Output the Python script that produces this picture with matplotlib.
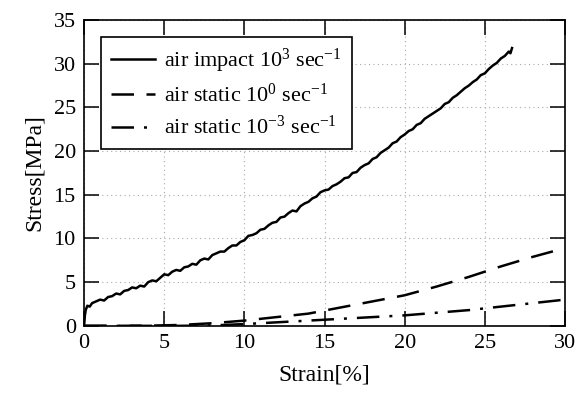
import matplotlib
matplotlib.use('Agg')
import matplotlib.pyplot as plt

plt.rcParams['font.family'] = ['Liberation Serif', 'DejaVu Serif']
plt.rcParams['mathtext.fontset'] = 'custom'
plt.rcParams['mathtext.rm'] = 'Liberation Serif'
plt.rcParams['mathtext.it'] = 'Liberation Serif:italic'

# air impact 10^3 /s (noisy curve)
impact_strain = [0, 0.05, 0.1, 0.2, 0.35, 0.5, 0.75, 1.0, 1.25, 1.5, 1.75, 2.0, 2.25, 2.5, 2.75,
                 3.0, 3.25, 3.5, 3.75, 4.0, 4.25, 4.5, 4.75, 5.0, 5.25, 5.5, 5.75, 6.0, 6.25,
                 6.5, 6.75, 7.0, 7.25, 7.5, 7.75, 8.0, 8.25, 8.5, 8.75, 9.0, 9.25, 9.5, 9.75,
                 10.0, 10.25, 10.5, 10.75, 11.0, 11.25, 11.5, 11.75, 12.0, 12.25, 12.5, 12.75,
                 13.0, 13.25, 13.5, 13.75, 14.0, 14.25, 14.5, 14.75, 15.0, 15.25, 15.5, 15.75,
                 16.0, 16.25, 16.5, 16.75, 17.0, 17.25, 17.5, 17.75, 18.0, 18.25, 18.5, 18.75,
                 19.0, 19.25, 19.5, 19.75, 20.0, 20.25, 20.5, 20.75, 21.0, 21.25, 21.5, 21.75,
                 22.0, 22.25, 22.5, 22.75, 23.0, 23.25, 23.5, 23.75, 24.0, 24.25, 24.5, 24.75,
                 25.0, 25.25, 25.5, 25.75, 26.0, 26.25, 26.5, 26.6, 26.7]
impact_stress = [0, 1.2, 1.8, 2.3, 2.2, 2.6, 2.8, 3.0, 2.9, 3.3, 3.4, 3.7, 3.6, 4.0, 4.1,
                 4.4, 4.3, 4.6, 4.5, 5.0, 5.2, 5.1, 5.5, 5.9, 5.8, 6.2, 6.4, 6.3, 6.7,
                 6.8, 7.1, 7.0, 7.5, 7.7, 7.6, 8.1, 8.3, 8.5, 8.5, 8.9, 9.2, 9.2, 9.6,
                 9.8, 10.3, 10.4, 10.6, 11.0, 11.1, 11.5, 11.8, 11.9, 12.4, 12.5, 12.9,
                 13.2, 13.1, 13.7, 14.0, 14.2, 14.6, 14.8, 15.3, 15.5, 15.6, 16.0, 16.2,
                 16.5, 16.9, 17.0, 17.5, 17.6, 18.1, 18.4, 18.6, 19.1, 19.3, 19.8, 20.1,
                 20.4, 20.9, 21.1, 21.6, 21.9, 22.3, 22.5, 23.0, 23.2, 23.7, 24.0, 24.3,
                 24.6, 24.9, 25.4, 25.6, 26.1, 26.4, 26.8, 27.2, 27.5, 27.9, 28.2, 28.7,
                 28.9, 29.4, 29.8, 30.1, 30.6, 30.9, 31.4, 31.2, 31.8]

# air static 10^0 /s
static0_strain = [0, 2, 4, 6, 8, 10, 12, 14, 16, 18, 20, 22, 24, 26, 28, 30]
static0_stress = [0, 0, 0.02, 0.1, 0.3, 0.6, 1.0, 1.4, 2.1, 2.8, 3.5, 4.5, 5.6, 6.8, 7.9, 8.9]

# air static 10^-3 /s
static3_strain = [0, 2, 4, 6, 7, 8, 10, 12, 14, 16, 18, 20, 22, 24, 26, 28, 30]
static3_stress = [0, 0, 0, 0, 0.02, 0.05, 0.2, 0.4, 0.6, 0.8, 1.0, 1.2, 1.5, 1.8, 2.2, 2.6, 3.0]

fig = plt.figure(figsize=(5.8, 3.94), dpi=100)
ax = fig.add_axes([0.145, 0.173, 0.829, 0.776])

lw = 1.8
ax.plot(impact_strain, impact_stress, color='black', lw=lw,
        label=r'air impact 10$^{3}$ sec$^{-1}$')
ax.plot(static0_strain, static0_stress, color='black', lw=lw, dashes=(9, 5),
        label=r'air static 10$^{0}$ sec$^{-1}$')
ax.plot(static3_strain, static3_stress, color='black', lw=lw, dashes=(9, 4, 1.2, 4),
        label=r'air static 10$^{-3}$ sec$^{-1}$')

ax.set_xlim(0, 30)
ax.set_ylim(0, 35)
ax.set_xticks(range(0, 31, 5))
ax.set_yticks(range(0, 36, 5))
ax.tick_params(direction='in', length=11, width=1.1, top=True, right=True,
               labelsize=16, pad=6)
ax.grid(True, color='#aaaaaa', linestyle=(0, (1, 3)), linewidth=0.8)
for s in ax.spines.values():
    s.set_linewidth(1.2)

ax.set_xlabel('Strain[%]', fontsize=17, labelpad=8)
ax.set_ylabel('Stress[MPa]', fontsize=17, labelpad=6)

leg = ax.legend(loc='upper left', bbox_to_anchor=(0.035, 0.945), fontsize=16,
                frameon=True, fancybox=False, edgecolor='black', framealpha=1,
                handlelength=2.0, handletextpad=0.4, labelspacing=0.4,
                borderpad=0.45, borderaxespad=0)
leg.get_frame().set_linewidth(1.2)

fig.savefig('out.png', dpi=100)
